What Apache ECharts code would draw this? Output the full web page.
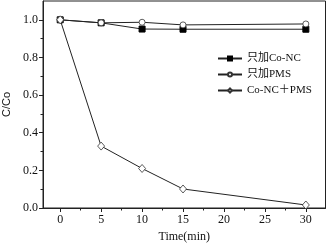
<!DOCTYPE html>
<html><head><meta charset="utf-8">
<script src="https://cdn.jsdelivr.net/npm/echarts@6/dist/echarts.min.js"></script>
<style>html,body{margin:0;padding:0;background:#fff}#c{width:327px;height:245px}</style>
</head><body><div id="c"></div>
<script>
const times = [0, 5, 10, 15, 30];
const coNC = [1.0, 0.984, 0.951, 0.950, 0.950];
const pmsOnly = [1.0, 0.984, 0.987, 0.973, 0.978];
const coNCPMS = [1.0, 0.329, 0.21, 0.101, 0.016];
const names = ['只加Co-NC', '只加PMS', 'Co-NC＋PMS'];
const xTicks = [0, 5, 10, 15, 20, 25, 30];
const xMinor = [2.5, 7.5, 12.5, 17.5, 22.5, 27.5];
const yTicks = [0, 0.2, 0.4, 0.6, 0.8, 1.0];
const yMinor = [0.1, 0.3, 0.5, 0.7, 0.9];

const ser = (v) => times.map((t, i) => [t, v[i]]);
const serif = "'Liberation Serif', 'Noto Sans CJK SC', serif";
const ink = '#222';
const chart = echarts.init(document.getElementById('c'), null, {renderer: 'canvas'});
chart.setOption({
  animation: false,
  grid: {left: 43, top: 1, right: 1.5, bottom: 37, show: true, borderColor: ink, borderWidth: 1,
    containLabel: false, outerBoundsMode: 'none'},
  legend: {
    orient: 'vertical', left: 212, top: 48, itemWidth: 24, itemHeight: 5, itemGap: 5,
    textStyle: {fontFamily: serif, fontSize: 11, color: '#111'},
    data: names
  },
  xAxis: [{
    type: 'value', min: -2.1, max: 32.4,
    name: 'Time(min)', nameLocation: 'middle', nameGap: 22,
    nameTextStyle: {fontFamily: serif, fontSize: 12, color: '#111'},
    axisLine: {onZero: false, lineStyle: {color: ink}},
    axisTick: {customValues: xTicks, length: 4, lineStyle: {color: ink}},
    axisLabel: {customValues: xTicks, fontFamily: serif, fontSize: 12, color: '#111', margin: 6},
    splitLine: {show: false}
  }, {
    type: 'value', min: -2.1, max: 32.4, position: 'bottom',
    axisLine: {show: false, onZero: false},
    axisTick: {customValues: xMinor, length: 2.5, lineStyle: {color: ink}},
    axisLabel: {show: false}, splitLine: {show: false}
  }],
  yAxis: [{
    type: 'value', min: 0, max: 1.1,
    name: 'C/Co', nameLocation: 'middle', nameGap: 30,
    nameTextStyle: {fontFamily: "'Liberation Sans', Arial, sans-serif", fontSize: 11, color: '#111'},
    axisLine: {show: true, onZero: false, lineStyle: {color: ink}},
    axisTick: {show: true, customValues: yTicks, length: 4, lineStyle: {color: ink}},
    axisLabel: {customValues: yTicks, fontFamily: serif, fontSize: 12, color: '#111', margin: 5,
      formatter: v => v.toFixed(1)},
    splitLine: {show: false}
  }, {
    type: 'value', min: 0, max: 1.1, position: 'left',
    axisLine: {show: false, onZero: false},
    axisTick: {show: true, customValues: yMinor, length: 2.5, lineStyle: {color: ink}},
    axisLabel: {show: false}, splitLine: {show: false}
  }],
  series: [{
    name: names[0], type: 'line', data: ser(coNC), symbol: 'rect', symbolSize: 6,
    lineStyle: {color: ink, width: 1}, itemStyle: {color: '#000', borderColor: '#000', borderWidth: 1}
  }, {
    name: names[1], type: 'line', data: ser(pmsOnly), symbol: 'circle', symbolSize: 6,
    lineStyle: {color: ink, width: 1}, itemStyle: {color: '#fff', borderColor: '#333', borderWidth: 0.8}
  }, {
    name: names[2], type: 'line', data: ser(coNCPMS), symbol: 'diamond', symbolSize: [7, 8],
    lineStyle: {color: ink, width: 1}, itemStyle: {color: '#fff', borderColor: '#333', borderWidth: 0.8}
  }]
});
</script></body></html>
